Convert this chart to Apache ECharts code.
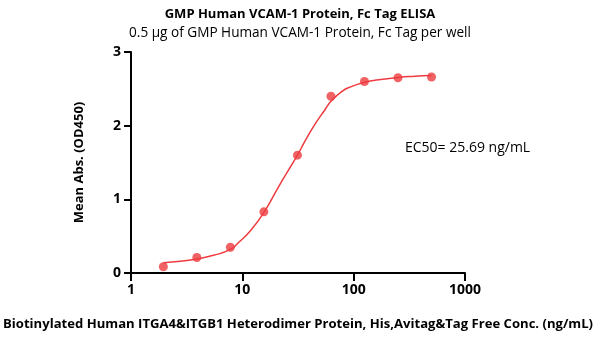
<!DOCTYPE html>
<html>
<head>
<meta charset="utf-8">
<script src="https://cdn.jsdelivr.net/npm/echarts@6/dist/echarts.min.js"></script>
<style>html,body{margin:0;padding:0;background:#fff;}#c{width:600px;height:339px;}</style>
</head>
<body>
<div id="c"></div>
<script>
const conc = [1.95, 3.9, 7.8, 15.6, 31.25, 62.5, 125, 250, 500];
const absValues = [0.085, 0.21, 0.35, 0.83, 1.60, 2.40, 2.60, 2.65, 2.66];
const curveX = [1.95, 2.76, 3.9, 5.5, 7.8, 9.4, 11.6, 15.6, 21.5, 31.25, 36.2, 44.5, 54.8, 62.5, 77.5, 95, 125, 160, 250, 354, 500];
const curveY = [0.14, 0.16, 0.19, 0.24, 0.32, 0.425, 0.56, 0.82, 1.19, 1.60, 1.78, 2.01, 2.21, 2.33, 2.46, 2.53, 2.59, 2.62, 2.655, 2.67, 2.68];
const yTicks = [0, 1, 2, 3];
const xTicks = [1, 10, 100, 1000];
const titleText = 'GMP Human VCAM-1 Protein, Fc Tag ELISA';
const subtitleText = '0.5 µg of GMP Human VCAM-1 Protein, Fc Tag per well';
const xName = 'Biotinylated Human ITGA4&ITGB1 Heterodimer Protein, His,Avitag&Tag Free Conc. (ng/mL)';
const yName = 'Mean Abs. (OD450)';
const ec50Text = 'EC50= 25.69 ng/mL';

const font = '"Open Sans", "Noto Sans", sans-serif';
const red = '#EE3B3F';
const chart = echarts.init(document.getElementById('c'), null, {renderer: 'canvas'});
chart.setOption({
  animation: false,
  backgroundColor: '#fff',
  title: [{
    text: titleText,
    left: 'center', top: 3,
    textStyle: {fontFamily: font, fontWeight: 'bold', fontSize: 13, color: '#000'}
  }, {
    text: subtitleText,
    left: 'center', top: 21,
    textStyle: {fontFamily: font, fontWeight: 'normal', fontSize: 13.6, color: '#000'}
  }],
  grid: {left: 131, right: 135, top: 52, bottom: 66, containLabel: false},
  xAxis: {
    type: 'log', logBase: 10, min: 1, max: 1000,
    name: xName, nameLocation: 'middle', nameGap: 45,
    nameTextStyle: {fontFamily: font, fontWeight: 'bold', fontSize: 13.1, color: '#000'},
    axisLine: {show: true, lineStyle: {color: '#000', width: 2}},
    axisTick: {show: true, length: 8, lineStyle: {color: '#000', width: 2}},
    minorTick: {show: false},
    splitLine: {show: false},
    axisLabel: {fontFamily: font, fontWeight: 'bold', fontSize: 14, color: '#000', margin: 10,
      formatter: v => xTicks.includes(Math.round(v)) ? String(Math.round(v)) : ''}
  },
  yAxis: {
    type: 'value', min: 0, max: 3, interval: 1,
    name: yName, nameLocation: 'middle', nameGap: 45, nameRotate: 90,
    nameTextStyle: {fontFamily: font, fontWeight: 'bold', fontSize: 13, color: '#000'},
    axisLine: {show: true, lineStyle: {color: '#000', width: 2}},
    axisTick: {show: true, length: 7, lineStyle: {color: '#000', width: 2}},
    splitLine: {show: false},
    axisLabel: {fontFamily: font, fontWeight: 'bold', fontSize: 14, color: '#000', margin: 10,
      formatter: v => yTicks.includes(v) ? String(v) : ''}
  },
  series: [{
    type: 'line',
    data: curveX.map((x, i) => [x, curveY[i]]),
    smooth: 0.5,
    showSymbol: false,
    lineStyle: {color: red, width: 1.5},
    z: 2
  }, {
    type: 'scatter',
    data: conc.map((x, i) => [x, absValues[i]]),
    symbol: 'circle', symbolSize: 9,
    itemStyle: {color: red},
    z: 3
  }],
  graphic: [{
    type: 'text', left: 405, top: 141,
    style: {text: ec50Text, fontFamily: font, fontSize: 14, fill: '#000'}
  }]
});
</script>
</body>
</html>
